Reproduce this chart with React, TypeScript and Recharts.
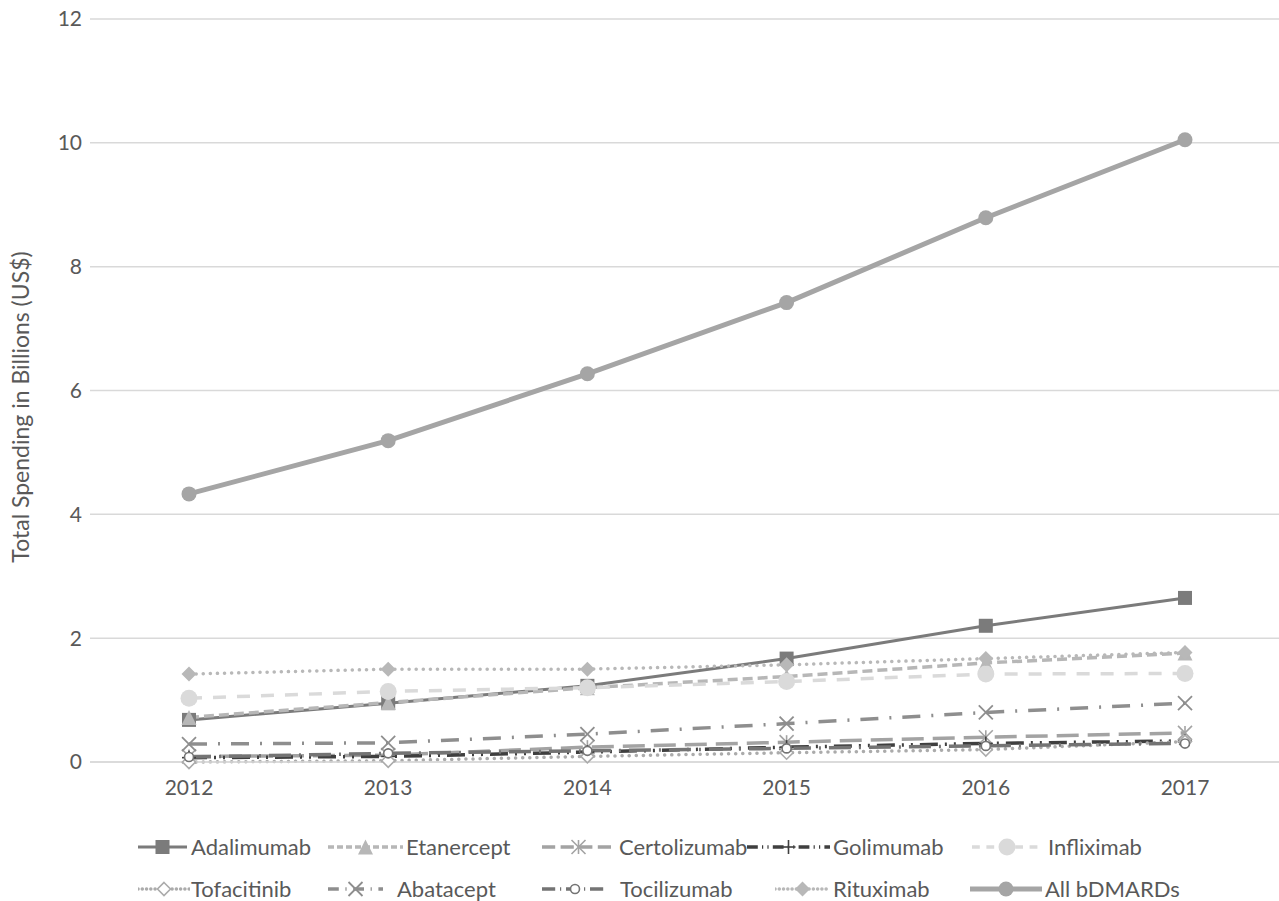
import React from 'react';
import { LineChart, Line, XAxis, YAxis, CartesianGrid } from 'recharts';

const years = ['2012', '2013', '2014', '2015', '2016', '2017'];
const yTicks = [0, 2, 4, 6, 8, 10, 12];

const adalimumab = [0.68, 0.95, 1.23, 1.67, 2.2, 2.65];
const etanercept = [0.72, 0.96, 1.2, 1.38, 1.6, 1.76];
const certolizumab = [0.09, 0.11, 0.24, 0.32, 0.4, 0.47];
const golimumab = [0.07, 0.09, 0.16, 0.24, 0.3, 0.34];
const infliximab = [1.03, 1.14, 1.2, 1.3, 1.42, 1.43];
const tofacitinib = [0.0, 0.02, 0.09, 0.15, 0.2, 0.33];
const abatacept = [0.29, 0.31, 0.45, 0.62, 0.8, 0.95];
const tocilizumab = [0.08, 0.14, 0.18, 0.22, 0.26, 0.3];
const rituximab = [1.42, 1.5, 1.5, 1.57, 1.67, 1.77];
const allBDMARDs = [4.33, 5.19, 6.27, 7.42, 8.79, 10.05];

const seriesNames = [
  'Adalimumab', 'Etanercept', 'Certolizumab', 'Golimumab', 'Infliximab',
  'Tofacitinib', 'Abatacept', 'Tocilizumab', 'Rituximab', 'All bDMARDs',
];
const seriesValues = [
  adalimumab, etanercept, certolizumab, golimumab, infliximab,
  tofacitinib, abatacept, tocilizumab, rituximab, allBDMARDs,
];

const data = years.map((year, i) => {
  const row: Record<string, any> = { year };
  seriesNames.forEach((n, j) => { row[n] = seriesValues[j][i]; });
  return row;
});

type Shape = 'square' | 'triangle' | 'asterisk' | 'plus' | 'circle' | 'openDiamond' | 'x' | 'openCircle' | 'diamond';

// look of each series (Excel-ish grayscale)
const styles: Record<string, { color: string; width: number; dash?: string; cap?: 'round' | 'butt'; shape: Shape; size: number }> = {
  Adalimumab: { color: '#7b7b7b', width: 3, shape: 'square', size: 14 },
  Etanercept: { color: '#b7b7b7', width: 3.5, dash: '10 5', shape: 'triangle', size: 15 },
  Certolizumab: { color: '#a3a3a3', width: 3.5, dash: '22 9', shape: 'asterisk', size: 14 },
  Golimumab: { color: '#3f3f3f', width: 3.5, dash: '18 7 2 7 2 7', shape: 'plus', size: 14 },
  Infliximab: { color: '#dadada', width: 3.5, dash: '13 11', shape: 'circle', size: 17 },
  Tofacitinib: { color: '#ababab', width: 3.5, dash: '0.1 7', cap: 'round', shape: 'openDiamond', size: 13 },
  Abatacept: { color: '#8e8e8e', width: 3.5, dash: '18 11 2 11', shape: 'x', size: 14 },
  Tocilizumab: { color: '#747474', width: 3.5, dash: '22 8 2 8', shape: 'openCircle', size: 11 },
  Rituximab: { color: '#b8b8b8', width: 3.5, dash: '0.1 7', cap: 'round', shape: 'diamond', size: 15 },
  'All bDMARDs': { color: '#a5a5a5', width: 5, shape: 'circle', size: 15 },
};

const Marker = ({ shape, cx, cy, size, color }: { shape: Shape; cx: number; cy: number; size: number; color: string }) => {
  const h = size / 2;
  switch (shape) {
    case 'square':
      return <rect x={cx - h} y={cy - h} width={size} height={size} fill={color} />;
    case 'triangle':
      return <polygon points={`${cx},${cy - h} ${cx + h},${cy + h} ${cx - h},${cy + h}`} fill={color} />;
    case 'asterisk':
      return (
        <g stroke={color} strokeWidth={1.6}>
          <line x1={cx - h} y1={cy - h} x2={cx + h} y2={cy + h} />
          <line x1={cx - h} y1={cy + h} x2={cx + h} y2={cy - h} />
          <line x1={cx} y1={cy - h} x2={cx} y2={cy + h} />
        </g>
      );
    case 'plus':
      return (
        <g stroke={color} strokeWidth={1.6}>
          <line x1={cx - h} y1={cy} x2={cx + h} y2={cy} />
          <line x1={cx} y1={cy - h} x2={cx} y2={cy + h} />
        </g>
      );
    case 'circle':
      return <circle cx={cx} cy={cy} r={h} fill={color} />;
    case 'openDiamond':
      return <polygon points={`${cx},${cy - h} ${cx + h},${cy} ${cx},${cy + h} ${cx - h},${cy}`} fill="#fff" stroke={color} strokeWidth={1.6} />;
    case 'x':
      return (
        <g stroke={color} strokeWidth={1.8}>
          <line x1={cx - h} y1={cy - h} x2={cx + h} y2={cy + h} />
          <line x1={cx - h} y1={cy + h} x2={cx + h} y2={cy - h} />
        </g>
      );
    case 'openCircle':
      return <circle cx={cx} cy={cy} r={h - 1} fill="#fff" stroke={color} strokeWidth={1.6} />;
    case 'diamond':
      return <polygon points={`${cx},${cy - h} ${cx + h},${cy} ${cx},${cy + h} ${cx - h},${cy}`} fill={color} />;
  }
  return null;
};

const dotFor = (name: string) => (props: any) => {
  const s = styles[name];
  return (
    <g key={`${name}-${props.index}`}>
      <Marker shape={s.shape} cx={props.cx} cy={props.cy} size={s.size} color={s.color} />
    </g>
  );
};

// legend placement, [iconLeft, iconWidth, textLeft, centreY]
const legendPos: Record<string, [number, number, number, number]> = {
  Adalimumab: [138, 49, 191, 847],
  Etanercept: [328, 75, 406, 847],
  Certolizumab: [542, 73, 619, 847],
  Golimumab: [747, 83, 833, 847],
  Infliximab: [972, 70, 1048, 847],
  Tofacitinib: [138, 52, 191, 889],
  Abatacept: [328, 55, 397, 889],
  Tocilizumab: [542, 66, 620, 889],
  Rituximab: [775, 55, 833, 889],
  'All bDMARDs': [970, 72, 1045, 889],
};

const LegendBlock = () => (
  <>
    {seriesNames.map((n) => {
      const s = styles[n];
      const [il, iw, tl, cy] = legendPos[n];
      return (
        <React.Fragment key={n}>
          <svg style={{ position: 'absolute', left: il, top: cy - 10 }} width={iw} height={20}>
            <line x1={0} y1={10} x2={iw} y2={10} stroke={s.color} strokeWidth={s.width}
              strokeDasharray={s.dash ? s.dash.split(' ').map((v) => Number(v) * 0.6).join(' ') : undefined}
              strokeLinecap={s.cap ?? 'butt'} />
            <Marker shape={s.shape} cx={iw / 2} cy={10} size={s.size} color={s.color} />
          </svg>
          <div style={{ position: 'absolute', left: tl, top: cy - 11, fontSize: 22, lineHeight: '22px', color: '#595959', whiteSpace: 'nowrap' }}>
            {n}
          </div>
        </React.Fragment>
      );
    })}
  </>
);

const YLabel = () => (
  <text x={20} y={407} transform="rotate(-90 20 407)" textAnchor="middle" dominantBaseline="central" fill="#595959" fontSize={23}>
    Total Spending in Billions (US$)
  </text>
);

export default function App() {
  return (
    <div style={{ position: 'absolute', left: 0, top: 0, width: 1279, height: 901, overflow: 'hidden', background: '#fff', fontFamily: 'Lato, sans-serif' }}>
      <LineChart width={1284} height={901} data={data} margin={{ top: 19, right: 0, bottom: 0, left: 0 }}>
        <CartesianGrid vertical={false} stroke="#d9d9d9" strokeWidth={1.5} />
        <XAxis dataKey="year" axisLine={{ stroke: '#d9d9d9', strokeWidth: 1.5 }} tickLine={false}
          tick={{ fill: '#595959', fontSize: 21 }} tickMargin={12} height={139}
          padding={{ left: 99, right: 99 }} />
        <YAxis domain={[0, 12]} ticks={yTicks} width={90} axisLine={false} tickLine={false}
          tick={{ fill: '#595959', fontSize: 21 }} label={<YLabel />} />
        {seriesNames.map((n) => {
          const s = styles[n];
          return (
            <Line key={n} dataKey={n} type="linear" stroke={s.color} strokeWidth={s.width}
              strokeDasharray={s.dash} strokeLinecap={s.cap ?? 'butt'} dot={dotFor(n)}
              activeDot={false} isAnimationActive={false} />
          );
        })}
      </LineChart>
      <LegendBlock />
    </div>
  );
}
